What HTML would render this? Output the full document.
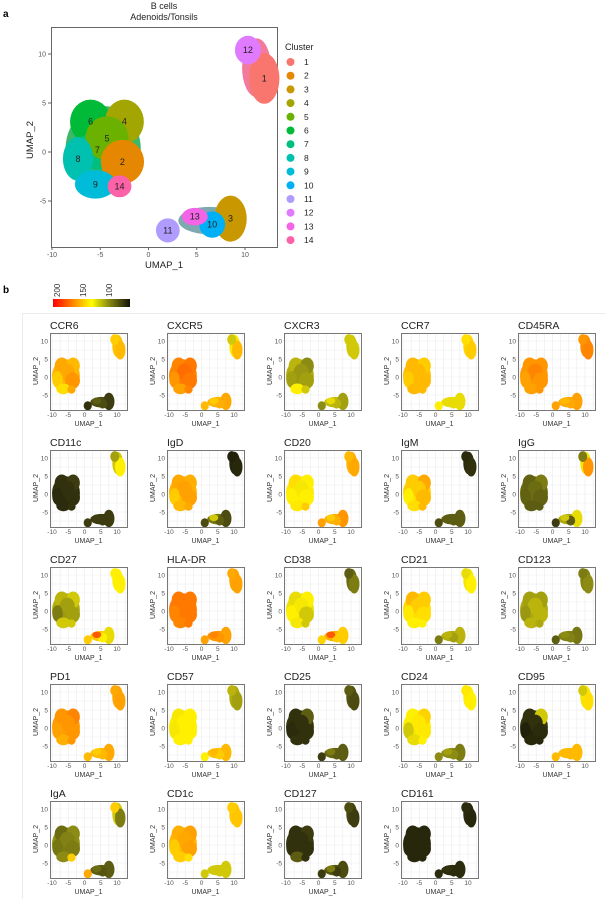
<!DOCTYPE html>
<html><head><meta charset="utf-8"><style>
html,body{margin:0;padding:0;background:#fff;}
svg{display:block;font-family:"Liberation Sans",Arial,sans-serif;}
</style></head><body>
<svg id="fig" width="606" height="899" viewBox="0 0 606 899">
<text x="3" y="17" font-size="10" font-weight="bold">a</text>
<text x="164" y="9" font-size="9" text-anchor="middle" fill="#222">B cells</text>
<text x="164" y="20" font-size="9" text-anchor="middle" fill="#222">Adenoids/Tonsils</text>
<g id="topplot"></g>
<g id="legend"></g>
<text x="3" y="293" font-size="10" font-weight="bold">b</text>
<defs><linearGradient id="cbar" x1="0" x2="1" y1="0" y2="0">
<stop offset="0" stop-color="#ff0000"/><stop offset="0.3" stop-color="#ff9a00"/><stop offset="0.5" stop-color="#ffff00"/><stop offset="0.72" stop-color="#8c8c14"/><stop offset="1" stop-color="#111108"/></linearGradient></defs>
<rect x="53" y="299" width="77" height="8" fill="url(#cbar)"/>
<text transform="translate(60,297) rotate(-90)" font-size="8" fill="#333">200</text>
<text transform="translate(86,297) rotate(-90)" font-size="8" fill="#333">150</text>
<text transform="translate(112,297) rotate(-90)" font-size="8" fill="#333">100</text>
<rect x="22.5" y="313.5" width="590" height="590" fill="none" stroke="#ececec"/>
<g id="panels"></g>
</svg>
<script>
const clusterIds=[1,2,3,4,5,6,7,8,9,10,11,12,13,14];
const clusterX=[12,-2.7,8.5,-2.5,-4.3,-6,-5.3,-7.3,-5.5,6.6,2,10.3,4.8,-3];
const clusterY=[7.5,-1,-6.8,3.1,1.4,3.1,0.2,-0.7,-3.3,-7.4,-8,10.4,-6.6,-3.5];
const clusterRx=[1.4,2.0,1.5,1.8,2.0,1.9,1.8,1.4,1.9,1.2,1.1,1.2,1.2,1.1];
const clusterRy=[2.3,2.0,2.1,2.0,2.0,2.0,1.8,2.0,1.3,1.2,1.1,1.3,0.8,1.0];
const clusterColors=["#F8766D","#E58700","#C99800","#A3A500","#6BB100","#00BA38","#00BF7D","#00C0AF","#00BCD8","#00B0F6","#B09CFF","#E07BFF","#F464E6","#FD61A8"];
const drawOrder=[5,6,3,4,7,1,8,13,0,11,2,9,12,10];
// background hulls: main group, top-right group, bottom group
const hullMembers=[[1,3,4,5,6,7,8,13],[0,11],[2,9,12]];
const hullX=[-4.7,11.2,6.3];
const hullY=[0.3,8.6,-7.0];
const hullRx=[3.9,1.5,3.2];
const hullRy=[4.4,3.0,1.4];
const hullColors=["#3DB86A","#F27A9A","#7FA9B0"];
const xTicks=[-10,-5,0,5,10];
const yTicks=[-5,0,5,10];
const markers=["CCR6","CXCR5","CXCR3","CCR7","CD45RA","CD11c","IgD","CD20","IgM","IgG","CD27","HLA-DR","CD38","CD21","CD123","PD1","CD57","CD25","CD24","CD95","IgA","CD1c","CD127","CD161"];
// expression per cluster 1..14
const expr=[
[165,175,100,165,170,170,165,160,155,105,95,160,110,170],
[165,180,170,180,182,178,180,175,172,168,165,140,160,178],
[140,130,130,125,128,135,128,130,150,135,125,140,145,140],
[160,165,145,160,165,165,165,160,165,145,150,155,145,165],
[178,175,172,175,178,175,175,172,172,170,172,175,165,175],
[150,95,100,100,95,95,92,92,92,100,100,130,100,95],
[90,172,105,168,172,170,165,160,165,110,105,88,140,170],
[170,150,175,150,148,155,150,150,152,168,172,165,160,160],
[95,165,110,170,160,160,155,150,155,110,105,92,110,165],
[175,112,145,120,115,112,115,112,110,110,100,120,140,110],
[150,130,145,140,130,135,128,120,140,150,160,150,185,140],
[172,180,172,180,180,180,180,178,178,175,172,170,178,180],
[120,140,160,150,148,145,150,150,148,160,158,110,185,140],
[150,155,135,160,160,165,155,152,150,130,120,145,135,150],
[125,135,118,130,135,130,132,128,135,122,110,120,125,132],
[172,175,170,178,175,175,172,172,168,165,165,170,160,175],
[130,150,165,150,150,148,150,148,150,160,150,135,165,150],
[105,95,110,110,95,95,92,92,95,110,100,110,120,95],
[150,152,120,158,152,150,148,140,145,125,125,152,130,150],
[155,92,165,140,95,95,90,88,90,165,165,140,165,90],
[120,120,110,125,122,115,120,118,125,108,170,160,115,160],
[162,172,140,172,170,168,165,160,160,140,140,160,140,155],
[100,95,105,100,95,95,95,95,110,100,100,105,120,95],
[90,90,92,90,90,90,90,90,90,92,92,92,95,90]
];
const NS='http://www.w3.org/2000/svg';
function mk(tag,attrs,parent){const e=document.createElementNS(NS,tag);for(const k in attrs)e.setAttribute(k,attrs[k]);parent.appendChild(e);return e;}
function colorFor(v){
  const stops=[[80,[17,17,8]],[100,[60,60,16]],[125,[140,140,20]],[150,[255,240,0]],[175,[255,150,0]],[200,[255,0,0]]];
  v=Math.max(80,Math.min(200,v));
  for(let i=0;i<stops.length-1;i++){const a=stops[i],b=stops[i+1];if(v<=b[0]){const t=(v-a[0])/(b[0]-a[0]);const c=a[1].map((x,j)=>Math.round(x+(b[1][j]-x)*t));return `rgb(${c[0]},${c[1]},${c[2]})`;}}
  return 'rgb(255,0,0)';
}
// ---------- top plot ----------
const topG=document.getElementById('topplot');
const X0=52,XS=9.65,Y0=152,YS=9.8;
const sx=x=>X0+(x+10)*XS, sy=y=>Y0-y*YS;
const plotBox=mk('rect',{x:51.5,y:27.5,width:226,height:220,fill:'#fff',stroke:'#666','stroke-width':1},topG);


hullX.forEach((hx,h)=>{
  const el=mk('ellipse',{cx:sx(hx),cy:sy(hullY[h]),rx:hullRx[h]*XS,ry:hullRy[h]*YS,fill:hullColors[h]},topG);
  
  
});
drawOrder.forEach(i=>{
  const el=mk('ellipse',{cx:sx(clusterX[i]),cy:sy(clusterY[i]),rx:clusterRx[i]*XS*1.12,ry:clusterRy[i]*YS*1.12,fill:clusterColors[i]},topG);
  
  
});
clusterIds.forEach((id,i)=>{
  const t=mk('text',{x:sx(clusterX[i]),y:sy(clusterY[i])+3,'font-size':9,'text-anchor':'middle',fill:'#222'},topG);
  t.textContent=id;
  
  
});
xTicks.forEach(v=>{
  mk('line',{x1:sx(v),x2:sx(v),y1:247,y2:250,stroke:'#666'},topG);
  const t=mk('text',{x:sx(v),y:257,'font-size':7,'text-anchor':'middle',fill:'#555'},topG);
  t.textContent=v;
  
  
});
yTicks.forEach(v=>{
  mk('line',{x1:48,x2:51,y1:sy(v),y2:sy(v),stroke:'#666'},topG);
  const t=mk('text',{x:46,y:sy(v)+2.5,'font-size':7,'text-anchor':'end',fill:'#555'},topG);
  t.textContent=v;
  
  
});
const xt=mk('text',{x:164,y:268,'font-size':9.5,'text-anchor':'middle',fill:'#222'},topG);
xt.textContent='UMAP_1';


const yt=mk('text',{transform:'translate(33,140) rotate(-90)','font-size':9.5,'text-anchor':'middle',fill:'#222'},topG);
yt.textContent='UMAP_2';


// legend
const lg=document.getElementById('legend');
const lt=mk('text',{x:285,y:50,'font-size':9,fill:'#222'},lg);
lt.textContent='Cluster';


clusterIds.forEach((id,i)=>{
  const y=62+i*13.7;
  const c=mk('circle',{cx:290.5,cy:y,r:4,fill:clusterColors[i]},lg);
  
  
  const t=mk('text',{x:304,y:y+3,'font-size':8.5,fill:'#222'},lg);
  t.textContent=id;
  
  
});
// ---------- marker panels ----------
const panels=document.getElementById('panels');
const gridX=[-10,-7.5,-5,-2.5,0,2.5,5,7.5,10,12.5];
const gridY=[-7.5,-5,-2.5,0,2.5,5,7.5,10];
markers.forEach((m,k)=>{
  const c=k%5,r=Math.floor(k/5),ox=117*c,oy=117*r;
  const g=mk('g',{},panels);
  
  
  const px=x=>84.5+ox+x*3.25, py=y=>377+oy-y*3.6;
  const t=mk('text',{x:50+ox,y:329+oy,'font-size':10.5,fill:'#222'},g);
  t.textContent=m;
  
  
  mk('rect',{x:50+ox,y:333+oy,width:77,height:77,fill:'#fff'},g);
  gridX.forEach(v=>mk('line',{x1:px(v),x2:px(v),y1:333+oy,y2:410+oy,stroke:'#ebebeb','stroke-width':0.6},g));
  gridY.forEach(v=>mk('line',{x1:50+ox,x2:127+ox,y1:py(v),y2:py(v),stroke:'#ebebeb','stroke-width':0.6},g));
  hullX.forEach((hx,h)=>{
    const mean=hullMembers[h].reduce((s,i)=>s+expr[k][i],0)/hullMembers[h].length;
    const e=mk('ellipse',{cx:px(hx-1),cy:py(hullY[h]),rx:hullRx[h]*3.25*1.1,ry:hullRy[h]*3.6*1.05,fill:colorFor(mean)},g);
    
    
  });
  drawOrder.forEach(i=>{
    const e=mk('ellipse',{cx:px(clusterX[i]-1),cy:py(clusterY[i]),rx:clusterRx[i]*3.25*1.15,ry:clusterRy[i]*3.6*1.15,fill:colorFor(expr[k][i])},g);
    
    
  });
  mk('rect',{x:50.5+ox,y:333.5+oy,width:77,height:77,fill:'none',stroke:'#777','stroke-width':1},g);
  xTicks.forEach(v=>{const tt=mk('text',{x:px(v),y:417+oy,'font-size':6.5,'text-anchor':'middle',fill:'#555'},g);tt.textContent=v;});
  yTicks.forEach(v=>{const tt=mk('text',{x:48+ox,y:py(v)+2.3,'font-size':6.5,'text-anchor':'end',fill:'#555'},g);tt.textContent=v;});
  const a1=mk('text',{x:88.5+ox,y:426+oy,'font-size':7,'text-anchor':'middle',fill:'#333'},g);
  a1.textContent='UMAP_1';
  
  
  const a2=mk('text',{transform:`translate(${38+ox},${371+oy}) rotate(-90)`,'font-size':7,'text-anchor':'middle',fill:'#333'},g);
  a2.textContent='UMAP_2';
  
  
});
</script>
</body></html>
